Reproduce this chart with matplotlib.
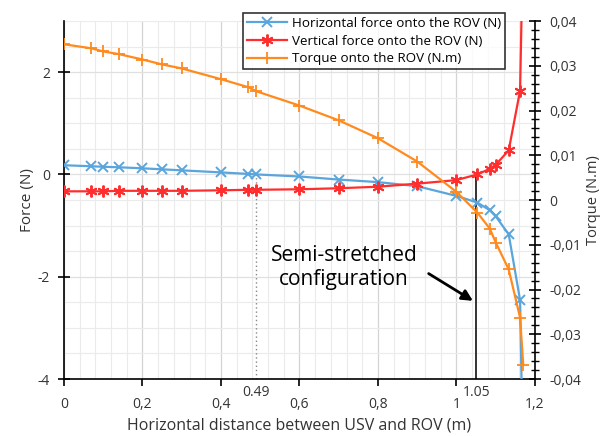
import matplotlib
matplotlib.use("Agg")
import matplotlib.pyplot as plt
from matplotlib.ticker import MultipleLocator, FuncFormatter

plt.rcParams['font.family'] = ['Open Sans', 'DejaVu Sans']

# Data
distance = [0, 0.07, 0.10, 0.14, 0.20, 0.25, 0.30, 0.40, 0.47, 0.49, 0.60, 0.70,
            0.80, 0.90, 1.00, 1.053, 1.085, 1.10, 1.133, 1.162, 1.168]
horizontal_force = [0.18, 0.16, 0.15, 0.14, 0.12, 0.10, 0.08, 0.04, 0.01, 0.00, -0.04, -0.10,
                    -0.15, -0.23, -0.42, -0.55, -0.70, -0.82, -1.17, -2.46, -5.0]
vertical_force = [-0.33, -0.33, -0.33, -0.32, -0.32, -0.32, -0.32, -0.31, -0.30, -0.30, -0.29, -0.27,
                  -0.24, -0.18, -0.11, 0.00, 0.11, 0.19, 0.47, 1.64, 4.0]
torque_distance = [0, 0.07, 0.10, 0.14, 0.20, 0.25, 0.30, 0.40, 0.47, 0.49, 0.60, 0.70,
                   0.80, 0.90, 1.00, 1.053, 1.085, 1.10, 1.133, 1.162, 1.17]
torque = [0.0348, 0.0339, 0.0332, 0.0326, 0.0314, 0.0303, 0.0294, 0.0270, 0.0252, 0.0243, 0.0211, 0.0178,
          0.0138, 0.0086, 0.0018, -0.0028, -0.0064, -0.0095, -0.0155, -0.0263, -0.0368]

x_ticks = [0, 0.2, 0.4, 0.6, 0.8, 1.0, 1.2]
force_ticks = [-4, -2, 0, 2]
torque_ticks = [-0.04, -0.03, -0.02, -0.01, 0, 0.01, 0.02, 0.03, 0.04]
mark_a = 0.49
mark_b = 1.05

blue = '#5AA5DC'
red = '#FF2E2E'
orange = '#FF8A1E'

fig = plt.figure(figsize=(6.02, 4.36), dpi=100)
ax = fig.add_axes([0.1063, 0.1307, 0.7824, 0.8211])
ax2 = ax.twinx()

def comma(v, pos=None):
    if abs(v) < 1e-12:
        return '0'
    return ('%g' % round(v, 4)).replace('.', ',')

ax.set_xlim(0, 1.2)
ax.set_ylim(-4, 3)
ax2.set_ylim(-0.04, 0.04)
ax.set_xticks(x_ticks)
ax.set_yticks(force_ticks)
ax.xaxis.set_minor_locator(MultipleLocator(0.04))
ax.yaxis.set_minor_locator(MultipleLocator(0.5))
ax.grid(True, which='minor', color='#EBEBEB', lw=0.8)
ax.grid(True, which='major', axis='x', color='#D4D4D4', lw=0.9)
ax.grid(True, which='major', axis='y', color='#E0E0E0', lw=0.9)
ax.set_axisbelow(True)
ax.tick_params(axis='x', which='minor', length=0)
ax.tick_params(axis='y', which='minor', length=0)

ax.xaxis.set_major_formatter(FuncFormatter(comma))
ax.yaxis.set_major_formatter(FuncFormatter(comma))
ax2.set_yticks(torque_ticks)
ax2.yaxis.set_minor_locator(MultipleLocator(0.002))
ax2.yaxis.set_major_formatter(FuncFormatter(comma))

for a in (ax, ax2):
    for s in a.spines.values():
        s.set_visible(False)
ax.spines['left'].set_visible(True)
ax.spines['bottom'].set_visible(True)
ax2.spines['right'].set_visible(True)
for sp in (ax.spines['left'], ax.spines['bottom'], ax2.spines['right']):
    sp.set_color('black')
    sp.set_linewidth(1.2)

ax.tick_params(axis='x', which='major', direction='out', length=5, width=1.2,
               labelsize=10, colors='black', labelcolor='#333333', pad=8)
ax.tick_params(axis='y', which='major', direction='inout', length=8, width=1.2,
               labelsize=10, colors='black', labelcolor='#333333', pad=6)
ax2.tick_params(axis='y', which='major', direction='inout', length=9, width=1.2,
                labelsize=10, colors='black', labelcolor='#333333', pad=6)
ax2.tick_params(axis='y', which='minor', direction='inout', length=6, width=1.0, colors='black')

# reference lines
ax.plot([mark_a, mark_a], [-4, 0.0], color='#888888', lw=1, ls=(0, (1, 2)), zorder=2)
ax.plot([mark_b, mark_b], [-4, 0.0], color='#333333', lw=1.4, zorder=2)

# series
l1, = ax.plot(distance, horizontal_force, color=blue, lw=1.6, marker='x', ms=7.5, mew=1.4,
              label='Horizontal force onto the ROV (N)', zorder=4)
l2, = ax.plot(distance, vertical_force, color=red, lw=1.6, marker=(6, 2, 0), ms=8.5, mew=1.4,
              label='Vertical force onto the ROV (N)', zorder=4)
l3, = ax2.plot(torque_distance, torque, color=orange, lw=1.6, marker='+', ms=9, mew=1.3,
               label='Torque onto the ROV (N.m)', zorder=4)

ax.set_xlabel('Horizontal distance between USV and ROV (m)', fontsize=11.5, color='#333333', labelpad=4)
ax.set_ylabel('Force (N)', fontsize=11, color='#333333', labelpad=2)
ax2.set_ylabel('Torque (N.m)', fontsize=10.5, color='#333333', labelpad=3)

# special labels
ax.text(mark_a, -4.12, '0.49', ha='center', va='top', fontsize=10, color='#333333')
ax.text(mark_b, -4.12, '1.05', ha='center', va='top', fontsize=10, color='#333333')

ax.text(0.713, -1.82, 'Semi-stretched\nconfiguration', ha='center', va='center',
        fontsize=15, color='black', linespacing=1.15)
ax.annotate('', xy=(mark_b - 0.002, -2.5), xytext=(0.923, -1.91),
            arrowprops=dict(arrowstyle='-|>', color='black', lw=2, mutation_scale=16))

leg = fig.legend(handles=[l1, l2, l3], loc='upper left', bbox_to_anchor=(243/602, 1 - 13/436),
                 fontsize=9.6, frameon=True, fancybox=False, edgecolor='black',
                 borderpad=0.3, labelspacing=0.35, handlelength=3.0, handletextpad=0.4,
                 borderaxespad=0)
leg.get_frame().set_linewidth(1.2)
leg.set_zorder(10)

fig.savefig('out.png', dpi=100)
